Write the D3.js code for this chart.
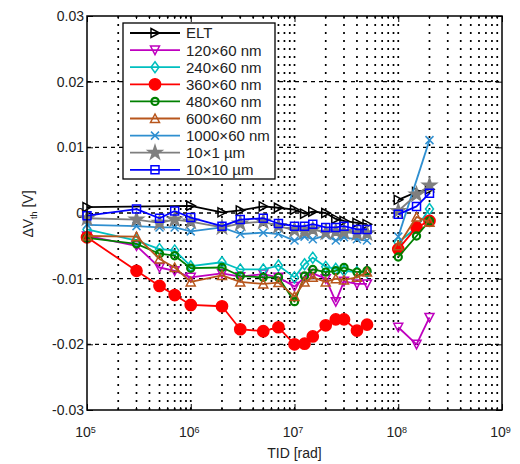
<!DOCTYPE html>
<html>
<head>
<meta charset="utf-8">
<script src="https://cdn.jsdelivr.net/npm/d3@7/dist/d3.min.js"></script>
<style>
  html, body { margin: 0; padding: 0; background: #fff; }
  svg { display: block; font-family: "Liberation Sans", Arial, sans-serif; }
</style>
</head>
<body>
<svg id="chart" width="520" height="464"></svg>
<script>
// Dose steps (rad): first irradiation campaign and the later high-dose steps
const tidLow  = [1e5, 3e5, 5e5, 7e5, 1e6, 2e6, 3e6, 5e6, 7e6, 1e7, 1.25e7, 1.5e7, 2e7, 2.5e7, 3e7, 4e7, 5e7];
const tidHigh = [1e8, 1.5e8, 2e8];

// Threshold-voltage shift (V) per device geometry
const eltLow  = [0.0009, null, null, null, 0.0011, 0.0001, 0.0004, 0.0010, 0.0008, 0.0005, -0.0001, 0.0002, 0.0000, -0.0009, -0.0012, -0.0015, -0.0017];
const eltHigh = [0.0020, 0.0032, 0.0036];
const w120Low  = [-0.0035, -0.0050, -0.0083, -0.0088, -0.0098, -0.0092, -0.0097, -0.0093, -0.0098, -0.0112, -0.0098, -0.0092, -0.0100, -0.0135, -0.0104, -0.0108, -0.0108];
const w120High = [-0.0174, -0.0200, -0.0159];
const w240Low  = [-0.0025, -0.0042, -0.0055, -0.0057, -0.0081, -0.0075, -0.0086, -0.0086, -0.0080, -0.0098, -0.0078, -0.0068, -0.0082, -0.0085, -0.0088, -0.0090, -0.0090];
const w240High = [-0.0045, -0.0022, 0.0006];
const w360Low  = [-0.0037, -0.0088, -0.0111, -0.0125, -0.0140, -0.0142, -0.0177, -0.0180, -0.0174, -0.0200, -0.0199, -0.0188, -0.0171, -0.0162, -0.0162, -0.0179, -0.0170];
const w360High = [-0.0055, -0.0022, -0.0012];
const w480Low  = [-0.0038, -0.0047, -0.0062, -0.0065, -0.0084, -0.0083, -0.0096, -0.0098, -0.0098, -0.0135, -0.0096, -0.0086, -0.0090, -0.0088, -0.0083, -0.0090, -0.0088];
const w480High = [-0.0067, -0.0035, -0.0012];
const w600Low  = [-0.0035, -0.0036, -0.0070, -0.0083, -0.0105, -0.0095, -0.0105, -0.0108, -0.0106, -0.0127, -0.0105, -0.0098, -0.0105, -0.0100, -0.0102, -0.0098, -0.0090];
const w600High = [-0.0050, -0.0006, -0.0014];
const w1000Low  = [-0.0018, -0.0020, -0.0022, -0.0022, -0.0028, -0.0022, -0.0032, -0.0030, -0.0032, -0.0042, -0.0036, -0.0040, -0.0034, -0.0042, -0.0037, -0.0040, -0.0042];
const w1000High = [-0.0036, null, 0.0111];
const sq1Low  = [-0.0008, -0.0010, -0.0015, -0.0010, -0.0013, -0.0022, -0.0016, -0.0013, -0.0020, -0.0026, -0.0028, -0.0025, -0.0030, -0.0028, -0.0029, -0.0031, -0.0031];
const sq1High = [0.0003, 0.0028, 0.0042];
const sq10Low  = [-0.0004, 0.0006, -0.0008, 0.0003, -0.0007, -0.0020, -0.0010, -0.0008, -0.0016, -0.0020, -0.0020, -0.0017, -0.0022, -0.0022, -0.0020, -0.0025, -0.0025];
const sq10High = [-0.0002, 0.0010, 0.0030];

const seriesNames = ["ELT", "120\u00d760 nm", "240\u00d760 nm", "360\u00d760 nm", "480\u00d760 nm", "600\u00d760 nm", "1000\u00d760 nm", "10\u00d71 \u00b5m", "10\u00d710 \u00b5m"];
const xTicks = [1e5, 1e6, 1e7, 1e8, 1e9];
const yTicks = [-0.03, -0.02, -0.01, 0, 0.01, 0.02, 0.03];

// Styling per series
const styles = [
  { color: "#000000", marker: "triRight", fill: "none" },
  { color: "#bf00bf", marker: "triDown",  fill: "none" },
  { color: "#00bfbf", marker: "diamond",  fill: "none" },
  { color: "#ff0000", marker: "circleBig", fill: "#ff0000" },
  { color: "#008000", marker: "circle",   fill: "none" },
  { color: "#b8561c", marker: "triUp",    fill: "none" },
  { color: "#2f8fd0", marker: "cross",    fill: "none" },
  { color: "#7f7f7f", marker: "star",     fill: "#7f7f7f" },
  { color: "#0000ff", marker: "square",   fill: "none" }
];
const lowSets  = [eltLow, w120Low, w240Low, w360Low, w480Low, w600Low, w1000Low, sq1Low, sq10Low];
const highSets = [eltHigh, w120High, w240High, w360High, w480High, w600High, w1000High, sq1High, sq10High];

const svg = d3.select("#chart");
const L = 87, R = 502, T = 16, B = 410;
const x = d3.scaleLog().domain([1e5, 1e9]).range([L, R]);
const y = d3.scaleLinear().domain([-0.03, 0.03]).range([B, T]);

// Grid: dotted verticals at every decade subdivision, dashed horizontals
const grid = svg.append("g");
const minorX = [];
for (let d = 5; d < 9; d++) for (let k = 1; k <= 9; k++) {
  const v = k * Math.pow(10, d);
  if (v > 1e5 && v < 1e9) minorX.push(v);
}
grid.selectAll("line.v").data(minorX).join("line")
  .attr("x1", d => x(d)).attr("x2", d => x(d))
  .attr("y1", T).attr("y2", B)
  .attr("stroke", "#000").attr("stroke-width", 1.7)
  .attr("stroke-dasharray", "2,6");
grid.selectAll("line.h").data(yTicks.filter(v => v > -0.03 && v < 0.03)).join("line")
  .attr("x1", L).attr("x2", R)
  .attr("y1", d => y(d)).attr("y2", d => y(d))
  .attr("stroke", "#000").attr("stroke-width", 1.4)
  .attr("stroke-dasharray", "4,4");

// Axes
const fmtY = d => d === 0 ? "0" : d.toFixed(2);
const axB = svg.append("g").attr("transform", `translate(0,${B})`)
  .call(d3.axisBottom(x).tickValues(xTicks).tickSize(-6).tickPadding(17).tickFormat(() => "10"));
axB.selectAll(".tick text").each(function(d) {
  const t = d3.select(this);
  t.append("tspan").attr("dy", "-0.45em").attr("font-size", "9px").text(Math.round(Math.log10(d)));
});
axB.selectAll(".tick text").attr("font-size", "14px").attr("fill", "#222").attr("dx", "-2");
axB.select(".domain").remove();
// minor ticks on bottom and top
svg.append("g").selectAll("line").data(minorX).join("line")
  .attr("x1", d => x(d)).attr("x2", d => x(d)).attr("y1", B).attr("y2", B - 3)
  .attr("stroke", "#000");
svg.append("g").selectAll("line").data(minorX).join("line")
  .attr("x1", d => x(d)).attr("x2", d => x(d)).attr("y1", T).attr("y2", T + 3)
  .attr("stroke", "#000");
const axT = svg.append("g").attr("transform", `translate(0,${T})`)
  .call(d3.axisTop(x).tickValues(xTicks).tickSize(-6).tickFormat(""));
axT.select(".domain").remove();

const axL = svg.append("g").attr("transform", `translate(${L},0)`)
  .call(d3.axisLeft(y).tickValues(yTicks).tickSize(-6).tickPadding(3).tickFormat(fmtY));
axL.selectAll(".tick text").attr("font-size", "14px").attr("fill", "#222");
axL.select(".domain").remove();
const axR = svg.append("g").attr("transform", `translate(${R},0)`)
  .call(d3.axisRight(y).tickValues(yTicks).tickSize(-6).tickFormat(""));
axR.select(".domain").remove();

// Marker shapes
function markerPath(kind) {
  switch (kind) {
    case "triRight": return "M-4,-4.5L4.5,0L-4,4.5Z";
    case "triDown":  return "M-4.5,-4L4.5,-4L0,4.5Z";
    case "triUp":    return "M-4.5,4L4.5,4L0,-4.5Z";
    case "diamond":  return "M0,-5.5L4,0L0,5.5L-4,0Z";
    case "square":   return "M-4,-4H4V4H-4Z";
    case "cross":    return "M-4,-4L4,4M-4,4L4,-4";
    case "circle":   return d3.symbol(d3.symbolCircle, Math.PI * 3.6 * 3.6)();
    case "circleBig":return d3.symbol(d3.symbolCircle, Math.PI * 5.6 * 5.6)();
    case "star":     return d3.symbol(d3.symbolStar, 60)();
  }
}

const line = d3.line().defined(d => d[1] !== null).x(d => x(d[0])).y(d => y(d[1]));
const plot = svg.append("g");
styles.forEach((s, i) => {
  const g = plot.append("g");
  const segs = [tidLow.map((t, j) => [t, lowSets[i][j]]), tidHigh.map((t, j) => [t, highSets[i][j]])];
  segs.forEach(seg => {
    const pts = seg.filter(d => d[1] !== null);
    g.append("path").attr("d", line(pts)).attr("fill", "none")
      .attr("stroke", s.color).attr("stroke-width", 1.8).attr("stroke-linejoin", "round");
    g.selectAll(null).data(pts).join("path")
      .attr("transform", d => `translate(${x(d[0])},${y(d[1])})`)
      .attr("d", markerPath(s.marker))
      .attr("fill", s.fill).attr("stroke", s.color).attr("stroke-width", s.marker === "circle" ? 2.2 : 1.5);
  });
});

// Box
svg.append("rect").attr("x", L).attr("y", T).attr("width", R - L).attr("height", B - T)
  .attr("fill", "none").attr("stroke", "#000").attr("stroke-width", 1.5);

// Legend
const lg = svg.append("g");
const lgTop = 23, lgStep = 17.1;
lg.append("rect").attr("x", 123).attr("y", lgTop).attr("width", 152).attr("height", 156)
  .attr("fill", "#fff").attr("stroke", "#000").attr("stroke-width", 1.3);
seriesNames.forEach((name, i) => {
  const cy = lgTop + 10 + i * lgStep;
  const s = styles[i];
  lg.append("line").attr("x1", 130).attr("x2", 180).attr("y1", cy).attr("y2", cy)
    .attr("stroke", s.color).attr("stroke-width", 1.8);
  lg.append("path").attr("transform", `translate(155,${cy})`).attr("d", markerPath(s.marker))
    .attr("fill", s.fill).attr("stroke", s.color).attr("stroke-width", s.marker === "circle" ? 2.2 : 1.5);
  lg.append("text").attr("x", 186).attr("y", cy).attr("dy", "0.36em")
    .attr("font-size", "15px").attr("fill", "#222").text(name);
});

// Axis titles
svg.append("text").attr("x", (L + R) / 2).attr("y", 458).attr("text-anchor", "middle")
  .attr("font-size", "14px").attr("fill", "#222").text("TID [rad]");
const yl = svg.append("text").attr("transform", "translate(33,214) rotate(-90)")
  .attr("text-anchor", "middle").attr("font-size", "14px").attr("fill", "#222");
yl.append("tspan").text("\u0394V");
yl.append("tspan").attr("font-size", "9px").attr("dy", "4").text("th");
yl.append("tspan").attr("dy", "-4").text(" [V]");
</script>
</body>
</html>
